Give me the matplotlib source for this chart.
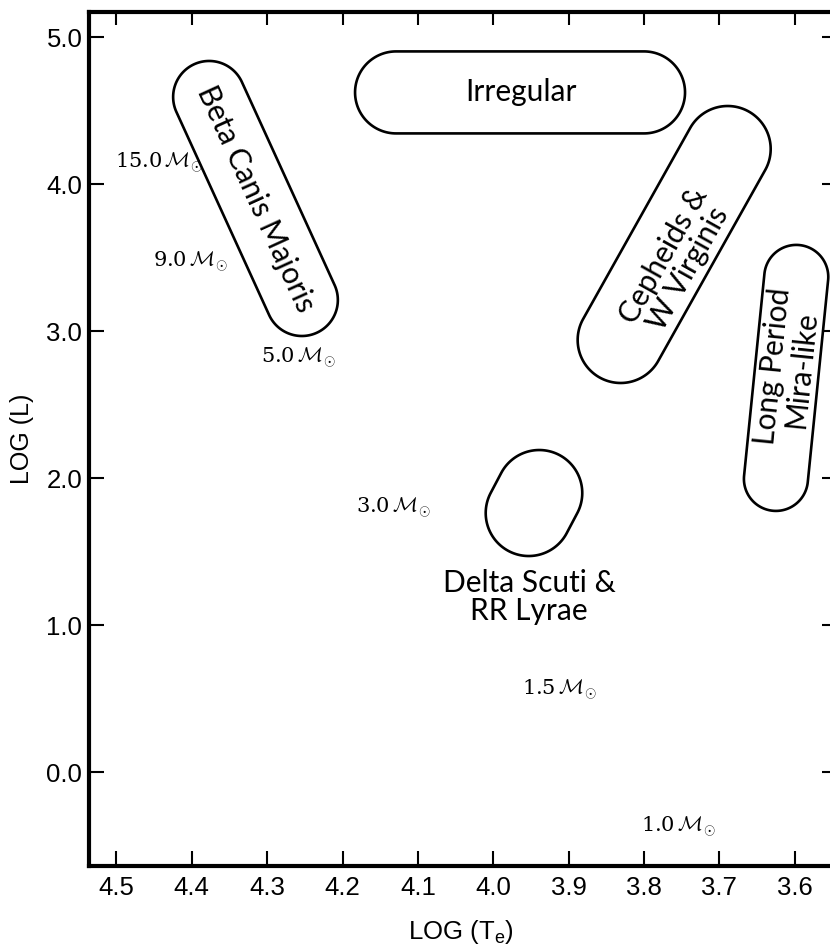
import numpy as np
import matplotlib
matplotlib.use('Agg')
import matplotlib.pyplot as plt
from matplotlib.patches import Polygon

plt.rcParams['font.family'] = ['Liberation Sans', 'DejaVu Sans']
plt.rcParams['mathtext.fontset'] = 'custom'
plt.rcParams['mathtext.rm'] = 'Liberation Sans'
plt.rcParams['mathtext.it'] = 'Liberation Sans:italic'
plt.rcParams['mathtext.bf'] = 'Liberation Sans:bold'

# ---------------- data ----------------
x_ticks = [4.5, 4.4, 4.3, 4.2, 4.1, 4.0, 3.9, 3.8, 3.7, 3.6]
x_tick_labels = ['4.5', '4.4', '4.3', '4.2', '4.1', '4.0', '3.9', '3.8', '3.7', '3.6']
y_ticks = [0.0, 1.0, 2.0, 3.0, 4.0, 5.0]
y_tick_labels = ['0.0', '1.0', '2.0', '3.0', '4.0', '5.0']

mass_labels = ['15.0', '9.0', '5.0', '3.0', '1.5', '1.0']
mass_x = [4.4435, 4.402, 4.259, 4.132, 3.912, 3.754]
mass_y = [4.146, 3.473, 2.82, 1.80, 0.561, -0.371]

# pulsating-star regions: capsule centre-line end points (log Te, log L)
region_names = ['Beta Canis Majoris', 'Irregular', 'Cepheids &\nW Virginis',
                'Long Period\nMira-like', 'Delta Scuti &\nRR Lyrae']
region_x1 = [4.377, 4.129, 3.831, 3.625, 3.953]
region_y1 = [4.595, 4.626, 2.942, 1.997, 1.765]
region_x2 = [4.254, 3.800, 3.689, 3.598, 3.939]
region_y2 = [3.214, 4.626, 4.241, 3.371, 1.901]
label_x = [4.315, 3.963, 3.7576, 3.610, 3.9526]
label_y = [3.905, 4.626, 3.473, 2.752, 1.197]

# ---------------- style ----------------
region_radius_px = [36, 41, 43, 32, 43]
label_rotate = [True, True, True, True, False]

DPI = 100
fig = plt.figure(figsize=(8.30, 9.49), dpi=DPI)
ax = fig.add_axes([89.3 / 830, 1 - 866 / 949, (832 - 89.3) / 830, (866 - 12) / 949])
ax.set_xlim(4.536, 3.5506)
ax.set_ylim(-0.636, 5.173)

for s in ax.spines.values():
    s.set_linewidth(3.0)

ax.set_xticks(x_ticks)
ax.set_xticklabels(x_tick_labels)
ax.set_yticks(y_ticks)
ax.set_yticklabels(y_tick_labels)
ax.tick_params(direction='in', length=11, width=1.5, top=True, right=True,
               labelsize=18.5)
ax.tick_params(axis='x', pad=7)
ax.tick_params(axis='y', pad=5)
for t in ax.xaxis.get_major_ticks():
    t.tick2line.set_markersize(9.5)
for t in ax.yaxis.get_major_ticks():
    t.tick2line.set_markersize(7)

ax.set_ylabel('LOG (L)', fontsize=18, labelpad=9)
ax.set_xlabel(r'LOG (T$_\mathrm{e}$)', fontsize=18.5, labelpad=13)

# capsules
for i in range(len(region_names)):
    p1 = ax.transData.transform((region_x1[i], region_y1[i]))
    p2 = ax.transData.transform((region_x2[i], region_y2[i]))
    r = region_radius_px[i]
    d = p2 - p1
    th = np.arctan2(d[1], d[0])
    a2 = np.linspace(th + np.pi / 2, th - np.pi / 2, 80)
    a1 = np.linspace(th - np.pi / 2, th - 3 * np.pi / 2, 80)
    pts = np.vstack([
        np.column_stack([p2[0] + r * np.cos(a2), p2[1] + r * np.sin(a2)]),
        np.column_stack([p1[0] + r * np.cos(a1), p1[1] + r * np.sin(a1)]),
    ])
    data_pts = ax.transData.inverted().transform(pts)
    ax.add_patch(Polygon(data_pts, closed=True, fill=False, edgecolor='black',
                         linewidth=1.9, joinstyle='round'))
    if label_rotate[i]:
        ang = np.degrees(th)
        if ang > 90:
            ang -= 180
        if ang < -90:
            ang += 180
    else:
        ang = 0
    ax.text(label_x[i], label_y[i], region_names[i], rotation=ang,
            rotation_mode='anchor', ha='center', va='center', ma='center',
            fontsize=21.5, family=['Lato', 'DejaVu Sans'], linespacing=1.0)

# mass labels
for lab, mx, my in zip(mass_labels, mass_x, mass_y):
    ax.text(mx, my, lab + r'$\,\mathcal{M}_{\odot}$', ha='center', va='center',
            fontsize=15, family=['DejaVu Serif'], math_fontfamily='cm')

fig.savefig('out.png', dpi=DPI)
